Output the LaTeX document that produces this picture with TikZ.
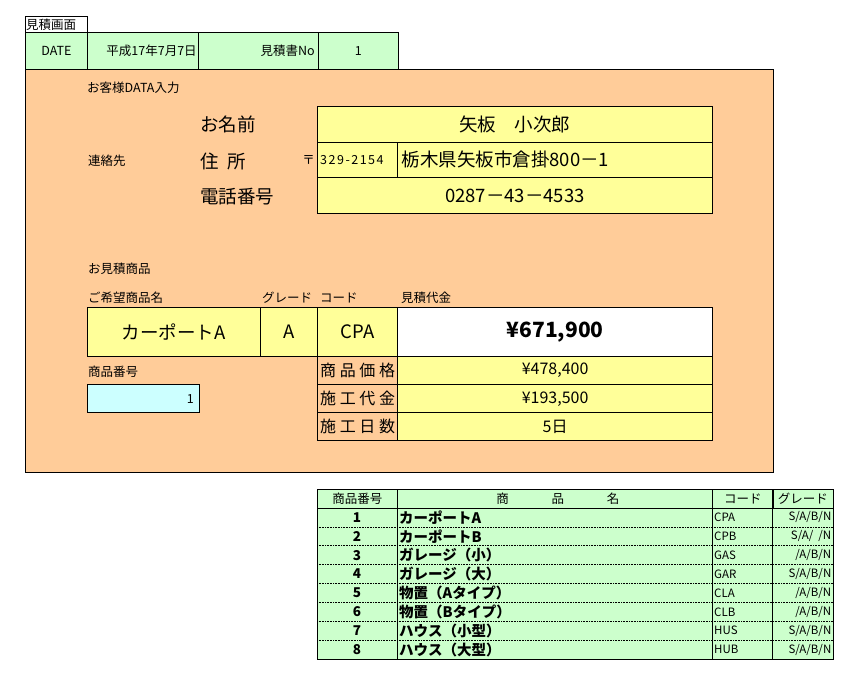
\documentclass[tikz,border=0pt]{standalone}
\usepackage{fontspec}
\setmainfont{Noto Sans CJK JP}
\usepackage{xcolor}
\usepackage{tikz}
\definecolor{formorange}{HTML}{FFCC99}
\definecolor{headgreen}{HTML}{CCFFCC}
\definecolor{inputyellow}{HTML}{FFFF99}
\definecolor{inputcyan}{HTML}{CCFFFF}
\tikzstyle{cell} = [rectangle, draw=black, line width=0.9pt, inner sep=0pt, anchor=north west]
\tikzstyle{greencell} = [cell, fill=headgreen]
\tikzstyle{yellowcell} = [cell, fill=inputyellow]
\tikzstyle{smalltext} = [inner sep=0pt, font=\fontsize{12.5}{14}\selectfont]
\tikzstyle{bigtext} = [inner sep=0pt, font=\fontsize{18.5}{20}\selectfont]
\tikzstyle{midtext} = [inner sep=0pt, font=\fontsize{16}{18}\selectfont]
\tikzstyle{listtext} = [inner sep=0pt, font=\fontsize{11.5}{13}\selectfont]
\tikzstyle{listbold} = [inner sep=0pt, font=\bfseries\fontsize{14.5}{16}\selectfont]

\begin{document}
\begin{tikzpicture}[x=1pt,y=-1pt]
	\useasboundingbox (0,0) rectangle (855,677);
	% header row
	\node (tab) [cell, fill=white, minimum width=62pt, minimum height=16pt] at (25,16) {};
	\node (tabtxt) [smalltext, anchor=west] at ([xshift=1pt]tab.west) {見積画面};
	\node (date) [greencell, minimum width=62pt, minimum height=37pt] at (25,32) {};
	\node (heisei) [greencell, minimum width=111pt, minimum height=37pt] at (87,32) {};
	\node (estno) [greencell, minimum width=120pt, minimum height=37pt] at (198,32) {};
	\node (estnum) [greencell, minimum width=80pt, minimum height=37pt] at (318,32) {};
	\node (datetxt) [smalltext] at (date) {DATE};
	\node (heiseitxt) [smalltext, anchor=east] at ([xshift=-2pt]heisei.east) {平成17年7月7日};
	\node (estnotxt) [smalltext, anchor=east] at ([xshift=-4pt]estno.east) {見積書No};
	\node (estnumtxt) [smalltext] at (estnum) {1};

	% customer form
	\node (form) [cell, fill=formorange, minimum width=748pt, minimum height=403pt] at (25,69) {};
	\node (custtitle) [smalltext, anchor=west] at (87,88) {お客様DATA入力};
	\node (contact) [smalltext, anchor=west] at (88,161) {連絡先};
	\node (namelbl) [bigtext, anchor=west] at (200,124.5) {お名前};
	\node (addrlbl) [bigtext, anchor=west] at (200,161) {住\hspace{8.5pt}所};
	\node (tellbl) [bigtext, anchor=west] at (200,197) {電話番号};
	\node (nameval) [yellowcell, minimum width=395pt, minimum height=36pt] at (317,105.7) {};
	\node (zip) [yellowcell, minimum width=80.4pt, minimum height=35.6pt] at (317,141.7) {};
	\node (addr) [yellowcell, minimum width=314.6pt, minimum height=35.6pt] at (397.4,141.7) {};
	\node (tel) [yellowcell, minimum width=395pt, minimum height=36pt] at (317,177.3) {};
	\node (nametxt) [bigtext] at (nameval) {矢板　小次郎};
	\node (postmark) [smalltext, anchor=east] at ([xshift=-2pt]zip.west) {〒};
	\node (ziptxt) [smalltext, anchor=west, font=\fontsize{12.5}{14}\selectfont\addfontfeature{LetterSpace=12}] at ([xshift=3pt]zip.west) {329-2154};
	\node (addrtxt) [bigtext, anchor=west] at ([xshift=4pt]addr.west) {栃木県矢板市倉掛800－1};
	\node (teltxt) [bigtext] at (tel) {0287－43－4533};

	% estimate
	\node (goods) [smalltext, anchor=west] at (88,269) {お見積商品};
	\node (prodhead) [smalltext, anchor=west] at (88,297.7) {ご希望商品名};
	\node (gradehead) [smalltext, anchor=west] at (262,297.7) {グレード};
	\node (codehead) [smalltext, anchor=west] at (320,297.7) {コード};
	\node (totalhead) [smalltext, anchor=west] at (401,297.7) {見積代金};
	\node (prod) [yellowcell, minimum width=173.1pt, minimum height=49.3pt] at (86.5,306.7) {};
	\node (grade) [yellowcell, minimum width=57.4pt, minimum height=49.3pt] at (259.6,306.7) {};
	\node (code) [yellowcell, minimum width=80.4pt, minimum height=49.3pt] at (317,306.7) {};
	\node (total) [cell, fill=white, minimum width=314.6pt, minimum height=49.3pt] at (397.4,306.7) {};
	\node (prodtxt) [bigtext] at (prod) {カーポートA};
	\node (gradetxt) [bigtext] at (grade) {A};
	\node (codetxt) [bigtext] at (code) {CPA};
	\node (totaltxt) [inner sep=0pt, font=\bfseries\fontsize{21}{24}\selectfont] at (total) {¥671,900};
	\node (price) [cell, minimum width=80.4pt, minimum height=28.3pt] at (317,356) {};
	\node (priceval) [yellowcell, minimum width=314.6pt, minimum height=28.3pt] at (397.4,356) {};
	\node (work) [cell, minimum width=80.4pt, minimum height=28pt] at (317,384.3) {};
	\node (workval) [yellowcell, minimum width=314.6pt, minimum height=28pt] at (397.4,384.3) {};
	\node (days) [cell, minimum width=80.4pt, minimum height=27.7pt] at (317,412.3) {};
	\node (daysval) [yellowcell, minimum width=314.6pt, minimum height=27.7pt] at (397.4,412.3) {};
	\node (pricetxt) [midtext] at (price) {\hbox to 75pt{商\hfil 品\hfil 価\hfil 格}};
	\node (worktxt) [midtext] at (work) {\hbox to 75pt{施\hfil 工\hfil 代\hfil 金}};
	\node (daystxt) [midtext] at (days) {\hbox to 75pt{施\hfil 工\hfil 日\hfil 数}};
	\node (pricevaltxt) [midtext] at (priceval) {¥478,400};
	\node (workvaltxt) [midtext] at (workval) {¥193,500};
	\node (daysvaltxt) [midtext] at (daysval) {5日};
	\node (numlbl) [smalltext, anchor=west] at (88,371.7) {商品番号};
	\node (numin) [cell, fill=inputcyan, minimum width=112.5pt, minimum height=28pt] at (86.5,384.3) {};
	\node (numintxt) [smalltext, anchor=east] at ([xshift=-6pt]numin.east) {1};

	% product list
	\node (list) [greencell, minimum width=516.3pt, minimum height=170pt] at (317,489) {};
	\node (hnum) [cell, minimum width=80pt, minimum height=19pt] at (317,489) {};
	\node (hname) [cell, minimum width=315pt, minimum height=19pt] at (397,489) {};
	\node (hcode) [cell, minimum width=60.7pt, minimum height=19pt] at (712,489) {};
	\node (hgrade) [cell, minimum width=60.6pt, minimum height=19pt] at (772.7,489) {};
	\node (hnumtxt) [smalltext] at (hnum) {商品番号};
	\node (hnametxt) [smalltext] at ([xshift=3pt]hname.center) {\hbox to 123pt{商\hfil 品\hfil 名}};
	\node (hcodetxt) [smalltext] at (hcode) {コード};
	\node (hgradetxt) [smalltext, anchor=west] at ([xshift=5pt]hgrade.west) {グレード};
	\foreach \i in {1,...,7}
		\draw [densely dotted, line width=0.6pt] (317,{508+18.875*\i}) -- (833.3,{508+18.875*\i});
	\draw [line width=0.9pt] (hname.north west) -- (hname.north west |- list.south);
	\draw [line width=0.9pt] (hcode.north west) -- (hcode.north west |- list.south);
	\draw [line width=0.9pt] (hgrade.north west) -- (hgrade.north west |- list.south);
	\foreach \n/\pname/\pcode/\pgrade [count=\i] in {1/カーポートA/CPA/{S/A/B/N}, 2/カーポートB/CPB/{S/A/\ \ /N}, 3/ガレージ（小）/GAS/{/A/B/N}, 4/ガレージ（大）/GAR/{S/A/B/N}, 5/物置（Aタイプ）/CLA/{/A/B/N}, 6/物置（Bタイプ）/CLB/{/A/B/N}, 7/ハウス（小型）/HUS/{S/A/B/N}, 8/ハウス（大型）/HUB/{S/A/B/N}} {
		\pgfmathsetmacro\ry{508+18.875*(\i-0.5)}
		\node (num\i) [listbold, font=\bfseries\fontsize{13.5}{15}\selectfont] at (357,\ry) {\n};
		\node (name\i) [listbold, anchor=west] at (399,\ry) {\pname};
		\node (code\i) [listtext, anchor=west] at (714,\ry) {\pcode};
		\node (grade\i) [listtext, anchor=east] at (831.5,\ry) {\pgrade};
	}
\end{tikzpicture}
\end{document}
